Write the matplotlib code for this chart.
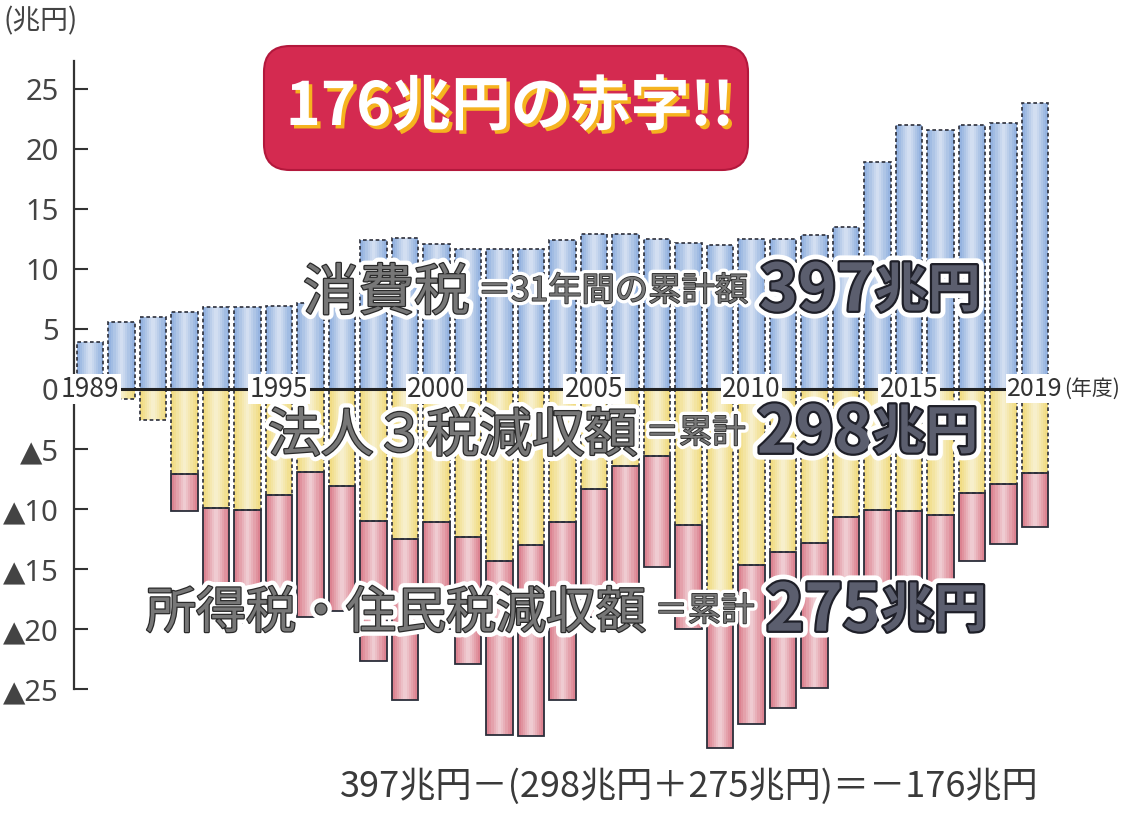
import numpy as np
import matplotlib
matplotlib.use("Agg")
import matplotlib.pyplot as plt
import matplotlib.patheffects as pe
from matplotlib.patches import FancyBboxPatch
from matplotlib import font_manager

# 1989〜2019年度 (兆円)
years = list(range(1989, 2020))
consumption = [3.9, 5.6, 6.0, 6.4, 6.8, 6.8, 6.9, 7.2, 10.0, 12.4, 12.6, 12.1, 11.7, 11.7, 11.7,
               12.4, 12.9, 12.9, 12.5, 12.2, 12.0, 12.5, 12.5, 12.8, 13.5, 18.9, 22.0, 21.6, 22.0,
               22.2, 23.8]
corporate = [0.0, 0.8, 2.6, 7.1, 9.9, 10.1, 8.8, 6.9, 8.1, 11.0, 12.5, 11.1, 12.3, 14.3, 13.0,
             11.1, 8.3, 6.4, 5.6, 11.3, 19.5, 14.7, 13.6, 12.8, 10.7, 10.1, 10.2, 10.5, 8.7,
             7.9, 7.0]
income = [0.0, 0.0, 0.0, 3.1, 9.1, 9.4, 10.2, 12.1, 10.4, 11.7, 13.4, 8.9, 10.6, 14.5, 15.9,
          14.8, 10.7, 12.6, 9.2, 8.7, 10.4, 13.2, 13.0, 12.1, 5.8, 6.4, 6.3, 6.0, 5.6, 5.0, 4.5]

ytick_vals = [25, 20, 15, 10, 5, 0, -5, -10, -15, -20, -25]
ytick_labels = ["25", "20", "15", "10", "5", "0", "▲5", "▲10", "▲15", "▲20", "▲25"]
year_marks = [1989, 1995, 2000, 2005, 2010, 2015]

W, H = 1126, 813

installed = {f.name for f in font_manager.fontManager.ttflist}
JP = "Noto Sans CJK JP"
LAT = "Noto Sans" if "Noto Sans" in installed else "DejaVu Sans"
plt.rcParams["font.family"] = [JP, "DejaVu Sans"]


def fx(x):
    return x / W


def fy(y):
    return 1 - y / H


fig = plt.figure(figsize=(W / 100, H / 100), dpi=100)
fig.patch.set_facecolor("white")
ax = fig.add_axes([fx(74), fy(773), (W - 74) / W, (773 - 29) / H])
ax.set_xlim(1988.49, 2021.89)
ax.set_ylim(-32, 30)
ax.set_facecolor("none")

yrs = np.array(years)
c = np.array(consumption)
k = np.array(corporate)
r = np.array(income)
bw = 0.83
dash = (0, (2.2, 1.6))
edge = "#2b2e3a"

m = r > 0
# fills
ax.bar(yrs, c, bw, color="#95b3e0", linewidth=0, zorder=2)
ax.bar(yrs, -k, bw, color="#f1dc84", linewidth=0, zorder=2)
ax.bar(yrs[m], -r[m], bw, bottom=-k[m], color="#dc8391", linewidth=0, zorder=2)
# soft highlight in the middle of each bar (cylinder look)
for frac, a in [(0.8, 0.12), (0.62, 0.14), (0.45, 0.17), (0.28, 0.2), (0.12, 0.2)]:
    ax.bar(yrs, c, bw * frac, color="white", alpha=a, linewidth=0, zorder=2.1)
    ax.bar(yrs, -k, bw * frac, color="white", alpha=a, linewidth=0, zorder=2.1)
    ax.bar(yrs[m], -r[m], bw * frac, bottom=-k[m], color="white", alpha=a, linewidth=0, zorder=2.1)
# outlines
ax.bar(yrs, c, bw, fill=False, edgecolor=edge, linewidth=1.2, linestyle=dash, zorder=2.2)
mk = k > 0
ax.bar(yrs[mk], -k[mk], bw, fill=False, edgecolor=edge, linewidth=1.2, linestyle=dash, zorder=2.2)
ax.bar(yrs[m], -r[m], bw, bottom=-k[m], fill=False, edgecolor=edge, linewidth=1.3, zorder=2.3)

# zero line with year labels
ax.plot([1989.7, 2018.5], [0, 0], color="#222222", lw=2.2, zorder=4, solid_capstyle="butt")
lab_box = dict(boxstyle="square,pad=0.06", fc="white", ec="none")
for yv in year_marks:
    ax.text(yv, 0, str(yv), ha="center", va="center", fontsize=19, color="#333333",
            zorder=5, bbox=lab_box)
t19 = ax.text(2019, 0, "2019", ha="center", va="center", fontsize=18, color="#333333",
              zorder=5, bbox=lab_box)
ax.annotate("(年度)", xy=(1, 0.5), xycoords=t19, xytext=(1, 0), textcoords="offset points",
            ha="left", va="center", fontsize=15, color="#333333", zorder=5,
            annotation_clip=False)

# axes
for s in ["top", "right", "bottom"]:
    ax.spines[s].set_visible(False)
ax.spines["left"].set_bounds(-25, 27.3)
ax.spines["left"].set_color("#333333")
ax.spines["left"].set_linewidth(1.6)
ax.set_xticks([])
ax.set_yticks(ytick_vals, ytick_labels)
ax.tick_params(axis="y", direction="in", length=10, width=1.5, color="#333333",
               labelsize=21, labelcolor="#444444", pad=11)
for lbl in ax.get_yticklabels():
    lbl.set_family([LAT, "DejaVu Sans"])

fig.text(fx(3), fy(21), "(兆円)", fontsize=20, color="#444444", ha="left", va="center")

# title box
box = FancyBboxPatch((2.64, (H - 170) / 100), 4.84, 1.24,
                     boxstyle="round,pad=0,rounding_size=0.26",
                     transform=fig.dpi_scale_trans, fc="#d42a50", ec="#b3183c", lw=1.5,
                     zorder=6)
fig.patches.append(box)
fig.text(fx(510), fy(108), "176兆円の赤字!!", fontsize=43, weight="bold", color="white",
         family=[JP], ha="center", va="center", zorder=7,
         path_effects=[pe.withSimplePatchShadow(offset=(2.5, -2.5), shadow_rgbFace="#f5b31f",
                                                alpha=1.0)])

halo = [pe.Stroke(linewidth=8, foreground="white"),
        pe.Stroke(linewidth=1.8, foreground="#2a2a2a"), pe.Normal()]
halo_s = [pe.Stroke(linewidth=6, foreground="white"),
          pe.Stroke(linewidth=1.2, foreground="#2a2a2a"), pe.Normal()]
big = [pe.Stroke(linewidth=10, foreground="white"),
       pe.Stroke(linewidth=3.2, foreground="#1e1f28"), pe.Normal()]


def label_row(x, y, head, head_size, mid, num):
    t1 = fig.text(fx(x), fy(y), head, fontsize=head_size, color="#777777", family=[JP],
                  ha="left", va="center", path_effects=halo, zorder=8)
    t2 = ax.annotate(mid, xy=(1, 0.5), xycoords=t1, xytext=(6, 2), textcoords="offset points",
                     fontsize=24, color="#777777", ha="left", va="center",
                     path_effects=halo_s, zorder=8, annotation_clip=False)
    t3 = ax.annotate(num, xy=(1, 0.5), xycoords=t2, xytext=(8, 0), textcoords="offset points",
                     fontsize=47, weight="bold", color="#5b5e6e", family=[JP],
                     ha="left", va="center", path_effects=big, zorder=8,
                     annotation_clip=False)
    ax.annotate("兆円", xy=(1, 0.5), xycoords=t3, xytext=(0, 0), textcoords="offset points",
                fontsize=38, weight="bold", color="#5b5e6e", family=[JP],
                ha="left", va="center", path_effects=big, zorder=8, annotation_clip=False)


label_row(303, 294, "消費税", 40, "＝31年間の累計額", "397")
label_row(268, 436, "法人３税減収額", 38, "＝累計", "298")
label_row(146, 614, "所得税・住民税減収額", 36, "＝累計", "275")

fig.text(fx(340), fy(787), "397兆円－(298兆円＋275兆円)＝－176兆円", fontsize=26,
         color="#3a3a3a", ha="left", va="center")

fig.savefig("out.png", dpi=100, facecolor="white")
